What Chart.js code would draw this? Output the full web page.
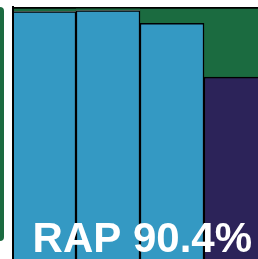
<!DOCTYPE html>
<html>
<head>
<meta charset="utf-8">
<script src="https://cdn.jsdelivr.net/npm/chart.js@4"></script>
<style>
  html, body { margin: 0; padding: 0; background: #fff; overflow: hidden; width: 258px; height: 259px; }
  #wrap { position: relative; width: 268px; height: 259px; }
</style>
</head>
<body>
<div id="wrap"><canvas id="rapChart"></canvas></div>
<script>
var categories = ['1', '2', '3', '4'];
var rapValues = [98.2, 98.6, 93.5, 72.2];
var restValues = rapValues.map(v => 100 - v);
var barColors = ['#3499c3', '#3499c3', '#3499c3', '#2c2359'];
var rapLabel = 'RAP 90.4%';

var decor = {
    id: 'decor',
    afterDraw(chart) {
        var c = chart.ctx, a = chart.chartArea;
        c.save();
        // left axis line
        c.strokeStyle = '#000';
        c.lineWidth = 2;
        c.beginPath();
        c.moveTo(a.left + 1, a.top - 1);
        c.lineTo(a.left + 1, a.bottom);
        c.stroke();
        // edge of neighbouring panel
        c.fillStyle = '#1b6b40';
        c.beginPath();
        c.roundRect(-6, a.top, 10, 234, 4);
        c.fill();
        // label
        c.fillStyle = '#fff';
        c.font = 'bold 42px "Liberation Sans", Arial, sans-serif';
        c.textAlign = 'right';
        c.textBaseline = 'alphabetic';
        c.fillText(rapLabel, 252, 252);
        c.restore();
    }
};

var ctx = document.getElementById('rapChart').getContext('2d');
var rapChart = new Chart(ctx, {
    type: 'bar',
    data: {
        labels: categories,
        datasets: [{
            label: 'RAP',
            data: rapValues,
            backgroundColor: barColors,
            borderColor: '#000',
            borderWidth: 1.5,
            borderSkipped: 'bottom'
        }, {
            label: 'Rest',
            data: restValues,
            backgroundColor: '#1b6b40',
            borderColor: '#000',
            borderWidth: {top: 2, left: 0, right: 0, bottom: 0},
            borderSkipped: false
        }]
    },
    options: {
        responsive: true,
        maintainAspectRatio: false,
        animation: false,
        layout: { padding: { left: 12, top: 7, right: 0, bottom: 0 } },
        datasets: { bar: { categoryPercentage: 1, barPercentage: 1 } },
        plugins: { legend: { display: false }, tooltip: { enabled: false } },
        scales: {
            x: { stacked: true, display: false },
            y: { stacked: true, display: false, min: 0, max: 100 }
        }
    },
    plugins: [decor]
});
</script>
</body>
</html>
